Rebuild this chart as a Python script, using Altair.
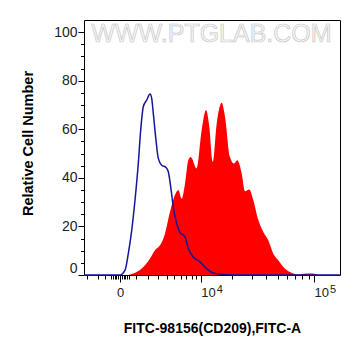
import altair as alt
import pandas as pd

# control (blue line)
blue_x = [-2751, -300, 0, 283, 484, 705, 932, 1173, 1359, 1569, 1859, 2159, 2320, 2477,
          2751, 2997, 3378, 3896, 4191, 4512, 4876, 5378, 5896, 6744, 7348, 8334, 9806,
          11472, 13322, 16591, 20514, 162000]
blue_y = [0, 0, 0, 2, 8.8, 18.4, 30.8, 45.9, 59.7, 69.3, 72, 74.5, 72.7, 66.5,
          55.5, 48, 45.2, 44.3, 42.5, 36.3, 28, 21.2, 17.5, 15.7, 10.9, 7.4, 5.4,
          2.6, 0.8, 0.2, 0, 0]

# sample (red filled)
red_x = [465, 1055, 1569, 2159, 2648, 3185, 3772, 4417, 5123, 5625, 6176, 6744, 7348,
         7810, 9058, 10210, 11289, 12176, 13145, 14367, 16026, 17209, 19138, 20816,
         22296, 24416, 26119, 28500, 30893, 34134, 37689, 41577, 45852, 50522, 55649,
         63295, 74163, 86966, 95610, 108206]
red_y = [0, 1.2, 3.3, 6.8, 10.2, 12.2, 17, 26, 33, 35, 31.4, 37.6, 47.3,
         48.6, 43.9, 59.7, 67.9, 61, 46.6, 62.4, 70.9, 65.2, 48.6, 45.9,
         47.3, 41.8, 34.5, 35.2, 30.8, 22.6, 17.7, 14.3, 8.8, 6.1, 3.3,
         1.2, 0.2, 0.6, 0.6, 0]

x_ticks = [-2400, -1500, -900, -500, -400, -300, -200, -100, 0, 100, 200, 300, 400, 500,
           1000, 2000, 3000, 4000, 5000, 6000, 7000, 8000, 9000, 10000,
           20000, 30000, 40000, 50000, 60000, 70000, 80000, 90000, 100000]
y_ticks = [0, 5, 10, 15, 20, 25, 30, 35, 40, 45, 50, 55, 60, 65, 70, 75, 80, 85, 90, 95, 100]
exp_x = [10000, 100000]
exp_txt = ["4", "5"]
watermark = ["WWW.PTGLAB.COM"]

blue = pd.DataFrame({"x": blue_x, "y": blue_y})
red = pd.DataFrame({"x": red_x, "y": red_y})
exps = pd.DataFrame({"x": exp_x, "t": exp_txt})
wm = pd.DataFrame({"t": watermark})

FONT = "Liberation Sans"
xscale = alt.Scale(type="symlog", constant=2950, domain=[-2751, 162460], nice=False)
yscale = alt.Scale(domain=[0, 105], nice=False)

major_x = "datum.value == 0 || datum.value == 10000 || datum.value == 100000"

xaxis = alt.Axis(
    values=x_ticks,
    labelExpr="datum.value == 0 ? '0' : ((datum.value == 10000 || datum.value == 100000) ? '10' : '')",
    tickSize={"condition": {"test": major_x, "value": 7}, "value": 4},
    labelAlign={"condition": {"test": "datum.value == 0", "value": "center"}, "value": "left"},
    labelOverlap=False,
    labelBound=False,
    labelFlush=False,
    labelPadding=4,
    labelFont=FONT, labelFontSize=13, labelColor="#222",
    title="FITC-98156(CD209),FITC-A",
    titleFont=FONT, titleFontSize=14, titleFontWeight="bold", titleColor="#000",
    titleX=128, titleY=57.7, titleBaseline="alphabetic", titleAlign="center",
)

yaxis = alt.Axis(
    values=y_ticks,
    labelExpr="datum.value % 20 == 0 ? datum.label : ''",
    tickSize={"condition": {"test": "datum.value % 20 == 0", "value": 6}, "value": 3.5},
    labelOverlap=False,
    labelFlush=True,
    labelPadding=1,
    labelFont=FONT, labelFontSize=14, labelColor="#222",
    title="Relative Cell Number",
    titleFont=FONT, titleFontSize=14.5, titleFontWeight="bold", titleColor="#000",
    titleX=-52, titleY=123, titleAngle=-90, titleBaseline="alphabetic", titleAlign="center",
)

wm_layer = alt.Chart(wm).mark_text(
    font=FONT, fontSize=25, fill="#f6f6f6", stroke="#c8c8c8",
    strokeWidth=0.7, align="center", baseline="middle"
).encode(x=alt.value(127.5), y=alt.value(14), text="t:N")

red_layer = alt.Chart(red).mark_area(
    color="#ff0000", opacity=1, interpolate="monotone"
).encode(
    x=alt.X("x:Q", scale=xscale, axis=xaxis),
    y=alt.Y("y:Q", scale=yscale, axis=yaxis),
)

blue_layer = alt.Chart(blue).mark_line(
    color="#16169a", strokeWidth=1.5, interpolate="monotone"
).encode(
    x=alt.X("x:Q", scale=xscale, axis=xaxis),
    y=alt.Y("y:Q", scale=yscale, axis=yaxis),
)

exp_layer = alt.Chart(exps).mark_text(
    font=FONT, fontSize=11, color="#222", align="left", baseline="alphabetic", dx=16
).encode(
    x=alt.X("x:Q", scale=xscale, axis=xaxis),
    y=alt.value(273),
    text="t:N",
)

chart = alt.layer(wm_layer, red_layer, blue_layer, exp_layer).properties(
    width=256, height=255,
    padding={"left": 84, "top": 20, "right": 21, "bottom": 81},
    autosize=alt.AutoSizeParams(type="none"),
    background="white",
).configure_view(
    stroke="black", strokeWidth=1
).configure_axis(
    domain=False, grid=False, tickColor="black", tickWidth=1
)

chart.save("out.html", embed_options={"renderer": "svg", "actions": False})
